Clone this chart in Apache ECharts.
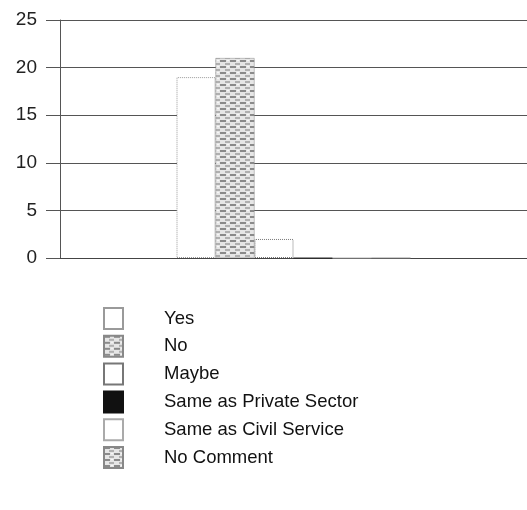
<!DOCTYPE html>
<html>
<head>
<meta charset="utf-8">
<script src="https://cdn.jsdelivr.net/npm/echarts@6/dist/echarts.min.js"></script>
<style>html,body{margin:0;padding:0;background:#fff;}#c{width:527px;height:510px;}</style>
</head>
<body>
<div id="c"></div>
<script>
const categories = [''];
const seriesNames = ['Yes', 'No', 'Maybe', 'Same as Private Sector', 'Same as Civil Service', 'No Comment'];
const yesValues = [19];
const noValues = [21];
const maybeValues = [2];
const privateValues = [0];
const civilValues = [0];
const noCommentValues = [0];
const yTicks = [0, 5, 10, 15, 20, 25];

function makePattern() {
  const c = document.createElement('canvas');
  c.width = 10; c.height = 6;
  const g = c.getContext('2d');
  g.fillStyle = '#e6e6e6'; g.fillRect(0, 0, 10, 6);
  g.fillStyle = '#8a8a8a'; g.fillRect(0, 0, 6, 2);
  g.fillStyle = '#b0b0b0'; g.fillRect(5, 3, 5, 2);
  g.fillStyle = '#f7f7f7'; g.fillRect(7, 0, 2, 1);
  return c;
}
const pat = {image: makePattern(), repeat: 'repeat'};

const styles = [
  {color: '#ffffff', borderColor: '#9a9a9a', borderWidth: 1, borderType: 'dotted'},
  {color: pat, borderColor: '#888', borderWidth: 0.5},
  {color: '#ffffff', borderColor: '#777', borderWidth: 1, borderType: 'dotted'},
  {color: '#111111', borderColor: '#111', borderWidth: 0.5},
  {color: '#ffffff', borderColor: '#aaa', borderWidth: 1, borderType: 'dotted'},
  {color: pat, borderColor: '#888', borderWidth: 0.5}
];
const values = [yesValues, noValues, maybeValues, privateValues, civilValues, noCommentValues];

const chart = echarts.init(document.getElementById('c'));
chart.setOption({
  animation: false,
  backgroundColor: '#fff',
  grid: {left: 60, right: 0, top: 20, bottom: 252, containLabel: false},
  xAxis: {
    type: 'category', data: categories,
    axisLine: {show: true, lineStyle: {color: '#444', width: 1}},
    axisTick: {show: false}, axisLabel: {show: false}
  },
  yAxis: {
    type: 'value', min: yTicks[0], max: yTicks[yTicks.length - 1], interval: 5,
    axisLine: {show: true, lineStyle: {color: '#555', width: 1}},
    axisTick: {show: true, length: 14, lineStyle: {color: '#555'}},
    axisLabel: {margin: 23, fontFamily: 'Liberation Sans, Arial, sans-serif', fontSize: 19, color: '#222'},
    splitLine: {show: true, lineStyle: {color: '#555', width: 1}}
  },
  legend: {
    orient: 'vertical', left: 103, top: 307, padding: 0,
    itemWidth: 19, itemHeight: 21, itemGap: 4.8,
    icon: 'rect',
    textStyle: {fontFamily: 'Liberation Sans, Arial, sans-serif', fontSize: 18.5, lineHeight: 21, color: '#111', padding: [0, 0, 0, 36]},
    data: seriesNames
  },
  series: seriesNames.map((n, i) => ({
    name: n, type: 'bar', data: values[i],
    barWidth: 39, barGap: '0%',
    itemStyle: styles[i]
  }))
});
</script>
</body>
</html>
